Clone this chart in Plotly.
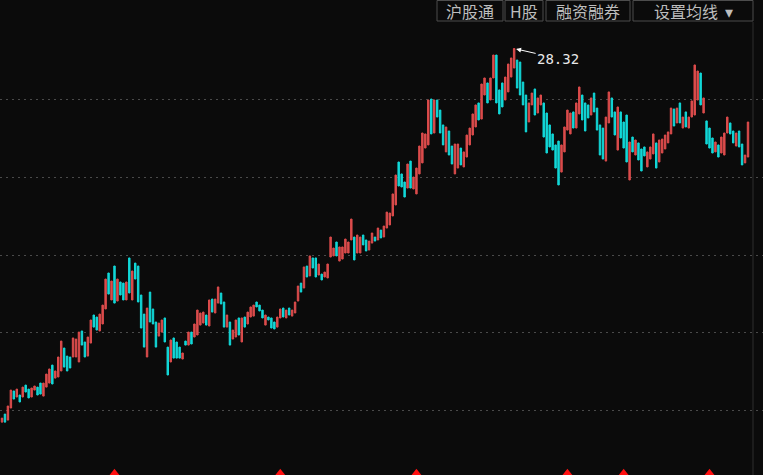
import plotly.graph_objects as go

# ---- data (prices; body spans the full bar at this density) ----
open_ = [4.22, 4.74, 4.35, 5.13, 6.23, 5.84, 5.97, 5.84, 6.61,
         6.35, 5.84, 6.29, 6.48, 6.74, 5.90, 6.48, 6.74, 7.90,
         7.06, 7.13, 7.52, 9.00, 8.48, 8.42, 8.42, 8.42, 8.10, 10.10,
         9.39, 8.48, 9.32, 11.13, 11.00, 10.10, 10.55, 11.52, 13.84, 12.10,
         14.29, 12.03, 13.26, 13.19, 12.10, 14.81, 12.10, 14.48, 14.29,
         12.42, 11.19, 8.42, 12.61, 11.52, 10.68, 9.77, 10.03, 10.94, 9.06,
         8.10, 9.65, 9.39, 9.06, 8.29, 9.45, 9.19, 10.03, 9.71, 9.84,
         10.48, 10.61, 11.13, 10.42, 12.16, 11.26, 11.90, 12.55, 11.97, 10.35,
         10.68, 9.58, 9.71, 10.94, 9.39, 11.00, 10.55, 11.00, 11.06, 11.97,
         11.77, 11.45, 10.48, 11.00, 10.94, 10.68, 10.35, 10.94, 11.58, 10.94,
         11.58, 11.06, 11.26, 12.03, 13.19, 12.87, 14.29, 13.65, 14.81, 14.81,
         13.71, 13.77, 13.58, 13.52, 14.87, 14.94, 15.84, 14.61, 14.74, 15.13,
         15.13, 15.97, 16.16, 15.13, 15.13, 16.29, 15.97, 15.32, 15.77, 16.16,
         15.97, 16.61, 16.16, 16.74, 16.94, 17.52, 18.23, 21.00, 20.23, 19.71,
         19.32, 21.06, 19.26, 18.94, 20.23, 20.94, 21.90, 22.10, 25.06, 22.87,
         25.00, 24.35, 23.39, 21.65, 23.00, 22.03, 20.23, 20.61, 21.90, 20.68,
         21.32, 22.10, 22.74, 23.26, 24.81, 23.77, 25.32, 26.10, 25.00, 26.42,
         27.90, 25.65, 26.10, 25.00, 25.52, 26.48, 27.06, 27.58, 27.45, 26.16,
         25.32, 23.58, 24.68, 25.71, 24.16, 24.68, 24.81, 24.16, 23.39, 22.81,
         22.10, 22.35, 20.35, 21.65, 23.06, 22.81, 24.23, 23.19, 24.10, 25.32,
         24.81, 24.68, 24.03, 25.45, 24.48, 23.39, 23.19, 21.06, 23.52, 25.13,
         24.23, 21.77, 24.23, 23.58, 24.03, 19.84, 22.61, 21.45, 22.23, 21.84,
         21.97, 20.68, 21.19, 21.52, 22.23, 21.00, 21.58, 21.84, 22.23, 22.81,
         24.42, 23.52, 24.81, 23.19, 24.23, 23.19, 23.90, 24.03, 25.00, 26.74,
         24.16, 23.65, 23.19, 22.55, 21.65, 22.10, 21.58, 21.45, 22.87, 23.52,
         23.00, 22.03, 23.00, 22.16, 20.94, 21.32]
close_ = [4.48, 4.22, 5.26, 6.29, 5.71, 6.35, 5.52, 6.48, 6.16,
          5.78, 6.42, 6.55, 5.97, 6.03, 6.74, 7.32, 7.65, 6.68,
          7.52, 8.42, 9.45, 7.77, 7.52, 7.71, 9.65, 9.58, 10.03, 9.19,
          8.42, 9.71, 10.81, 10.35, 10.16, 11.19, 11.77, 13.45, 12.48, 13.32,
          11.90, 13.45, 12.42, 12.10, 13.26, 12.55, 13.97, 13.45, 11.97,
          10.29, 9.06, 11.58, 10.68, 10.55, 9.06, 10.61, 10.81, 9.39, 7.26,
          9.52, 8.35, 8.35, 8.35, 8.68, 9.19, 10.03, 9.26, 10.55, 11.45,
          11.26, 11.32, 10.48, 12.10, 11.32, 12.16, 12.94, 11.84, 10.35, 11.13,
          9.19, 10.16, 10.81, 9.84, 10.94, 10.35, 11.32, 11.65, 11.77, 11.65,
          11.39, 10.94, 11.13, 10.81, 10.29, 10.23, 11.00, 11.52, 11.00, 11.45,
          11.13, 11.45, 11.97, 13.00, 12.61, 14.23, 13.58, 14.94, 14.16, 13.58,
          14.42, 13.39, 13.90, 14.42, 16.16, 15.45, 14.94, 15.52, 15.52, 16.03,
          15.84, 17.32, 14.68, 16.29, 16.16, 15.65, 15.26, 15.90, 16.42, 15.90,
          16.74, 16.10, 16.87, 17.77, 17.71, 18.94, 20.16, 19.45, 19.39, 18.74,
          20.87, 19.32, 20.03, 20.61, 22.03, 22.87, 22.81, 25.00, 22.81, 25.00,
          23.90, 22.87, 22.10, 23.26, 21.45, 20.87, 22.16, 22.16, 20.81, 21.65,
          22.74, 23.19, 24.10, 24.68, 23.71, 26.03, 26.42, 24.81, 26.42, 27.90,
          24.81, 24.10, 24.55, 26.48, 27.32, 27.71, 28.32, 25.77, 25.32, 24.68,
          22.94, 24.81, 25.45, 24.03, 25.13, 25.32, 22.61, 21.58, 21.97, 21.77,
          20.61, 19.52, 22.10, 23.26, 24.35, 24.16, 23.19, 24.81, 25.84, 23.71,
          23.00, 23.84, 25.13, 24.23, 23.06, 21.45, 21.19, 23.90, 25.52, 23.90,
          22.74, 24.55, 22.55, 21.90, 21.00, 22.29, 21.65, 22.42, 21.13, 20.42,
          21.39, 21.65, 21.97, 22.81, 20.61, 22.42, 22.48, 22.74, 22.94, 24.48,
          23.32, 24.48, 23.52, 23.90, 23.26, 23.90, 24.94, 27.26, 26.87, 24.68,
          25.13, 22.16, 21.90, 21.58, 22.29, 21.32, 22.61, 22.87, 23.90, 22.81,
          22.23, 22.87, 21.97, 20.81, 21.45, 23.58]
# at this density the wicks coincide with the bodies
high = [max(o, c) for o, c in zip(open_, close_)]
low = [min(o, c) for o, c in zip(open_, close_)]
days = list(range(len(open_)))

peak_day = close_.index(28.32)
peak_label = "28.32"
signal_days = [38, 94, 140, 191, 210, 239]
grid_levels = [5, 10, 15, 20, 25]
buttons = ["沪股通", "H股", "融资融券", "设置均线  ▾"]

W, H = 763, 475
BG = "#0b0b0b"
RED = "#dc4c4c"
CYAN = "#12d8d8"

fig = go.Figure()
fig.add_trace(go.Candlestick(
    x=days, open=open_, high=high, low=low, close=close_,
    increasing=dict(line=dict(color=RED, width=1), fillcolor=RED),
    decreasing=dict(line=dict(color=CYAN, width=1), fillcolor=CYAN),
    whiskerwidth=0, showlegend=False, hoverinfo="skip",
))
fig.add_trace(go.Scatter(
    x=signal_days, y=[0.93] * len(signal_days), mode="markers",
    marker=dict(symbol="triangle-up", size=9, color="#ff1010", line=dict(width=0)),
    showlegend=False, hoverinfo="skip",
))

fig.add_annotation(
    x=peak_day, y=28.32, text=peak_label, showarrow=True,
    ax=44, ay=10, arrowhead=2, arrowsize=1, arrowwidth=1, arrowcolor="#ffffff",
    standoff=2, font=dict(family="DejaVu Sans Mono", size=14, color="#e8e8e8"),
)

# top-right buttons
boxes = [(437, 503), (505, 543), (546, 630), (633, 753)]
for (x0, x1), label in zip(boxes, buttons):
    fig.add_shape(type="rect", xref="paper", yref="paper",
                  x0=x0 / W, x1=x1 / W, y0=1 - 21 / H, y1=1 - 0.5 / H,
                  line=dict(color="#4d4d4d", width=1), fillcolor=BG, layer="above")
    fig.add_annotation(xref="paper", yref="paper", x=(x0 + x1) / 2 / W, y=1 - 10.5 / H,
                       text=label, showarrow=False, xanchor="center", yanchor="middle",
                       font=dict(family="Noto Sans CJK SC", size=16, color="#bdbdbd"))

# right border line of the chart area
fig.add_shape(type="line", xref="paper", yref="paper", x0=753 / W, x1=753 / W,
              y0=0, y1=1 - 22 / H, line=dict(color="#2e2e2e", width=1))

n = len(days)
spacing = 746 / (n - 1)
fig.update_layout(
    width=W, height=H, margin=dict(l=0, r=0, t=0, b=0),
    paper_bgcolor=BG, plot_bgcolor=BG,
    xaxis=dict(range=[-2 / spacing, (n - 1) + 15 / spacing], visible=False,
               rangeslider=dict(visible=False)),
    yaxis=dict(range=[0.81, 31.45], tickvals=grid_levels, showticklabels=False,
               showgrid=True, gridcolor="#4a4a4a", gridwidth=1, griddash="2px,4px",
               zeroline=False, showline=False),
    showlegend=False,
)

fig.write_html("out.html", config={"displayModeBar": False},
               post_script="document.body.style.margin='0';")
